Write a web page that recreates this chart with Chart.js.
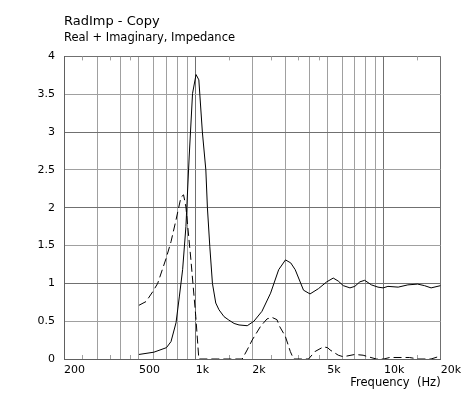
<!DOCTYPE html>
<html>
<head>
<meta charset="utf-8">
<script src="https://cdn.jsdelivr.net/npm/chart.js@4.4.1/dist/chart.umd.min.js"></script>
<style>
  html, body { margin: 0; padding: 0; background: #fff; }
  #wrap { width: 466px; height: 394px; }
</style>
</head>
<body>
<div id="wrap"><canvas id="grafico" width="466" height="394"></canvas></div>
<script>
// curva continua (parte real)
const realFreq = [500, 600, 700, 740, 787, 819, 853, 888, 924, 963, 1005, 1040, 1086, 1133, 1155, 1189, 1228, 1279, 1331, 1415, 1490, 1600, 1700, 1880, 2040, 2250, 2500, 2760, 3000, 3200, 3380, 3740, 4050, 4490, 4970, 5380, 5720, 6080, 6600, 7000, 7450, 7900, 8580, 9300, 9900, 10500, 11900, 13400, 15100, 16400, 17800, 20000];
const realVals = [0.06, 0.09, 0.15, 0.23, 0.48, 0.82, 1.18, 1.75, 2.67, 3.51, 3.76, 3.69, 3.0, 2.5, 2.0, 1.49, 1.0, 0.74, 0.65, 0.56, 0.52, 0.47, 0.45, 0.44, 0.5, 0.63, 0.87, 1.18, 1.31, 1.27, 1.18, 0.91, 0.86, 0.93, 1.02, 1.07, 1.03, 0.97, 0.94, 0.96, 1.02, 1.04, 0.98, 0.95, 0.94, 0.96, 0.95, 0.98, 0.99, 0.97, 0.94, 0.97];

// curva discontinua (parte imaginaria)
const imagFreq = [500, 546, 592, 629, 697, 740, 787, 836, 863, 888, 944, 1002, 1040, 1300, 1768, 1878, 1996, 2210, 2394, 2544, 2703, 2793, 2994, 3182, 3312, 3974, 4312, 4770, 5020, 5174, 5723, 6082, 7010, 7750, 8240, 9110, 9990, 10720, 12340, 13680, 15130, 17780, 20000];
const imagVals = [0.71, 0.76, 0.89, 1.0, 1.33, 1.55, 1.84, 2.14, 2.17, 2.01, 1.31, 0.56, 0, 0, 0, 0.12, 0.25, 0.43, 0.53, 0.55, 0.52, 0.43, 0.30, 0.1, 0, 0, 0.1, 0.16, 0.15, 0.12, 0.05, 0.03, 0.06, 0.05, 0.03, 0, 0, 0.02, 0.02, 0.02, 0, 0, 0.04];

// ejes
const xGridTicks = [200, 300, 400, 500, 600, 700, 800, 900, 1000, 2000, 3000, 4000, 5000, 6000, 7000, 8000, 9000, 10000, 20000];
const xLabels = { 200: '200', 500: '500', 1000: '1k', 2000: '2k', 5000: '5k', 10000: '10k', 20000: '20k' };
const xMajor = [200, 1000, 10000, 20000];
const xMinorTicks = [250, 350, 450, 1500, 2500, 3500, 4500, 15000];

const fuente = 'Verdana, "DejaVu Sans", sans-serif';
const gridMenor = '#a0a0a0';
const gridMayor = '#707070';

const toPoints = (xs, ys) => xs.map((f, i) => ({ x: f, y: ys[i] }));

// marcas cortas en los bordes superior e inferior
const marcasMenores = {
    id: 'marcasMenores',
    beforeDatasetsDraw(chart) {
        const { ctx, chartArea, scales } = chart;
        ctx.save();
        ctx.strokeStyle = gridMenor;
        ctx.lineWidth = 1;
        ctx.beginPath();
        xMinorTicks.forEach(f => {
            const px = Math.round(scales.x.getPixelForValue(f)) + 0.5;
            ctx.moveTo(px, chartArea.top);
            ctx.lineTo(px, chartArea.top + 4);
            ctx.moveTo(px, chartArea.bottom);
            ctx.lineTo(px, chartArea.bottom - 4);
        });
        ctx.stroke();
        ctx.restore();
    }
};

const config = {
    type: 'line',
    data: {
        datasets: [{
            label: 'Real',
            data: toPoints(realFreq, realVals),
            borderColor: '#000',
            borderWidth: 1,
            pointRadius: 0,
            tension: 0,
            fill: false
        }, {
            label: 'Imaginary',
            data: toPoints(imagFreq, imagVals),
            borderColor: '#000',
            borderWidth: 1,
            borderDash: [8, 4],
            pointRadius: 0,
            tension: 0,
            fill: false
        }]
    },
    options: {
        responsive: false,
        animation: false,
        events: [],
        layout: { padding: { left: 0, right: 23, top: 0, bottom: 0 } },
        plugins: {
            legend: { display: false },
            tooltip: { enabled: false },
            title: {
                display: true,
                text: 'RadImp - Copy',
                align: 'start',
                fullSize: false,
                color: '#000',
                font: { family: fuente, size: 13, weight: 'normal' },
                padding: { top: 14, bottom: 2 }
            },
            subtitle: {
                display: true,
                text: 'Real + Imaginary, Impedance',
                align: 'start',
                fullSize: false,
                color: '#000',
                font: { family: fuente, size: 11.5, weight: 'normal' },
                padding: { top: 0, bottom: 11 }
            }
        },
        scales: {
            x: {
                type: 'logarithmic',
                min: 200,
                max: 20000,
                afterBuildTicks: scale => {
                    scale.ticks = xGridTicks.map(v => ({ value: v }));
                },
                afterFit: scale => { scale.height = 35; },
                ticks: {
                    autoSkip: false,
                    maxRotation: 0,
                    align: 'start',
                    padding: 5,
                    color: '#000',
                    font: { family: fuente, size: 11 },
                    callback: v => xLabels[v] || ''
                },
                grid: {
                    drawTicks: false,
                    color: ctx => xMajor.includes(ctx.tick && ctx.tick.value) ? gridMayor : gridMenor
                },
                border: { color: '#606060' },
                title: {
                    display: true,
                    text: 'Frequency  (Hz)',
                    align: 'end',
                    color: '#000',
                    font: { family: fuente, size: 11.5 },
                    padding: { top: 0, bottom: 4 }
                }
            },
            y: {
                type: 'linear',
                min: 0,
                max: 4,
                afterFit: scale => { scale.width = 64; },
                ticks: {
                    stepSize: 0.5,
                    padding: 9,
                    color: '#000',
                    font: { family: fuente, size: 11 },
                    callback: v => String(v)
                },
                grid: {
                    drawTicks: false,
                    color: ctx => (ctx.tick && Number.isInteger(ctx.tick.value)) ? gridMayor : gridMenor
                },
                border: { color: '#606060' }
            }
        }
    },
    plugins: [marcasMenores]
};

const myChart = new Chart(document.getElementById('grafico').getContext('2d'), config);
</script>
</body>
</html>
